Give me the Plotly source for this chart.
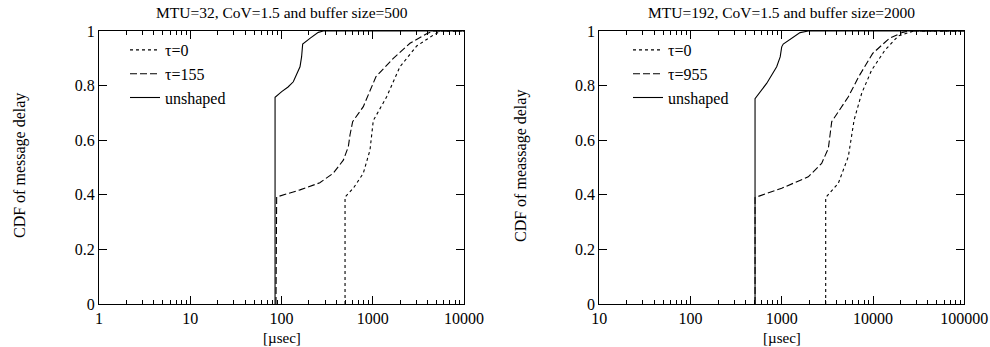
import math
import plotly.graph_objects as go

# ---------------- data ----------------
# Left panel: MTU=32, CoV=1.5, buffer size=500
L_unshaped_x = [85, 85, 100.5, 118, 134.7, 159.5, 166, 170.6, 205, 253, 287, 10000]
L_unshaped_y = [0, 0.757, 0.778, 0.795, 0.814, 0.869, 0.905, 0.952, 0.973, 0.995, 1.0, 1.0]

L_tau155_x = [87, 88.5, 159.5, 263, 369, 476, 540, 563, 602, 788, 1086, 1680, 2557, 3900, 4600, 10000]
L_tau155_y = [0, 0.392, 0.418, 0.444, 0.479, 0.527, 0.576, 0.619, 0.668, 0.723, 0.833, 0.900, 0.955, 0.990, 1.0, 1.0]

L_tau0_x = [497, 497, 612, 788, 933, 1014, 1420, 1987, 3030, 4610, 5600, 10000]
L_tau0_y = [0, 0.392, 0.424, 0.479, 0.564, 0.672, 0.759, 0.869, 0.945, 0.985, 1.0, 1.0]

# Right panel: MTU=192, CoV=1.5, buffer size=2000
R_unshaped_x = [509, 509, 682, 879, 960, 998, 1037, 1282, 1585, 1950, 100000]
R_unshaped_y = [0, 0.752, 0.808, 0.869, 0.905, 0.942, 0.952, 0.973, 0.994, 1.0, 1.0]

R_tau955_x = [509, 509, 998, 1950, 2733, 3236, 3524, 5360, 6970, 9910, 15080, 21120, 25000, 100000]
R_tau955_y = [0, 0.390, 0.424, 0.466, 0.515, 0.570, 0.668, 0.759, 0.833, 0.918, 0.973, 0.995, 1.0, 1.0]

R_tau0_x = [3027, 3027, 4160, 5360, 6200, 7510, 9660, 13520, 18920, 28000, 100000]
R_tau0_y = [0, 0.390, 0.442, 0.540, 0.674, 0.772, 0.857, 0.930, 0.982, 1.0, 1.0]

L_xticks = [1, 10, 100, 1000, 10000]
R_xticks = [10, 100, 1000, 10000, 100000]
y_ticks = [0, 0.2, 0.4, 0.6, 0.8, 1]
y_ticktext = ["0", "0.2", "0.4", "0.6", "0.8", "1"]

titles = ["MTU=32, CoV=1.5 and buffer size=500", "MTU=192, CoV=1.5 and buffer size=2000"]
ytitles = ["CDF of message delay", "CDF of meassage delay"]
xtitle = "[µsec]"
L_names = ["τ=0", "τ=155", "unshaped"]
R_names = ["τ=0", "τ=955", "unshaped"]

FONT = "Liberation Serif, Times New Roman, serif"

fig = go.Figure()

def add(x, y, name, dash, xa, ya, legend):
    fig.add_trace(go.Scatter(
        x=x, y=y, name=name, mode="lines", xaxis=xa, yaxis=ya, legend=legend,
        line=dict(color="black", width=1.1, dash=dash)))

add(L_tau0_x, L_tau0_y, L_names[0], "3px,3px", "x", "y", "legend")
add(L_tau155_x, L_tau155_y, L_names[1], "7px,3px", "x", "y", "legend")
add(L_unshaped_x, L_unshaped_y, L_names[2], "solid", "x", "y", "legend")
add(R_tau0_x, R_tau0_y, R_names[0], "3px,3px", "x2", "y2", "legend2")
add(R_tau955_x, R_tau955_y, R_names[1], "7px,3px", "x2", "y2", "legend2")
add(R_unshaped_x, R_unshaped_y, R_names[2], "solid", "x2", "y2", "legend2")

W, H = 990, 347
ydom = [1 - 304 / H, 1 - 31 / H]
xdomL = [99 / W, 464 / W]
xdomR = [599.3 / W, 964.3 / W]

def minor_vals(lo, hi):
    vals = []
    d = lo
    while d < hi:
        vals += [d * k for k in range(2, 10)]
        d *= 10
    return vals

def xaxis(dom, ticks, anchor):
    return dict(
        type="log", domain=dom, anchor=anchor, automargin=False,
        range=[math.log10(ticks[0]), math.log10(ticks[-1])],
        tickmode="array", tickvals=ticks, ticktext=[str(t) for t in ticks],
        ticks="inside", ticklen=8, tickwidth=1, tickcolor="black",
        minor=dict(ticks="inside", ticklen=4, tickwidth=1, tickcolor="black",
                   tickmode="array", tickvals=minor_vals(ticks[0], ticks[-1]), showgrid=False),
        showline=True, linecolor="black", linewidth=1.2, mirror="allticks",
        showgrid=False, zeroline=False,
        tickfont=dict(family=FONT, size=16, color="black"))

def yaxis(anchor):
    return dict(
        domain=ydom, anchor=anchor, range=[0, 1], automargin=False,
        tickmode="array", tickvals=y_ticks, ticktext=y_ticktext,
        ticks="inside", ticklen=8, tickwidth=1, tickcolor="black",
        showline=True, linecolor="black", linewidth=1.2, mirror="allticks",
        showgrid=False, zeroline=False,
        tickfont=dict(family=FONT, size=16, color="black"))

def legend(x):
    return dict(x=x, y=(1 - 74 / H), xanchor="left", yanchor="middle",
                bgcolor="rgba(0,0,0,0)", font=dict(family=FONT, size=16, color="black"),
                tracegroupgap=0, itemwidth=30, borderwidth=0)

fig.update_layout(
    width=W, height=H,
    margin=dict(l=0, r=0, t=0, b=0, autoexpand=False),
    paper_bgcolor="white", plot_bgcolor="white",
    showlegend=True,
    xaxis=xaxis(xdomL, L_xticks, "y"),
    yaxis=yaxis("x"),
    xaxis2=xaxis(xdomR, R_xticks, "y2"),
    yaxis2=yaxis("x2"),
    legend=legend(125 / W),
    legend2=legend(628 / W),
    font=dict(family=FONT, color="black"),
)

ann = []
for cx, t, yt, ax in [
        ((99 + 464) / 2, titles[0], ytitles[0], 20),
        ((599.3 + 964.3) / 2, titles[1], ytitles[1], 521)]:
    ann.append(dict(x=cx / W, y=1 - 12 / H, xref="paper", yref="paper", text=t,
                    xanchor="center", yanchor="middle",
                    showarrow=False, font=dict(family=FONT, size=15.5, color="black")))
    ann.append(dict(x=cx / W, y=1 - 338 / H, xref="paper", yref="paper", text=xtitle,
                    xanchor="center", yanchor="middle",
                    showarrow=False, font=dict(family=FONT, size=15, color="black")))
    ann.append(dict(x=ax / W, y=1 - 166 / H, xref="paper", yref="paper", text=yt,
                    xanchor="center", yanchor="middle",
                    textangle=-90, showarrow=False, font=dict(family=FONT, size=16, color="black")))
fig.update_layout(annotations=ann)

fig.write_html("out.html", config={"displayModeBar": False},
               post_script="document.body.style.margin='0';document.body.style.overflow='hidden';")
